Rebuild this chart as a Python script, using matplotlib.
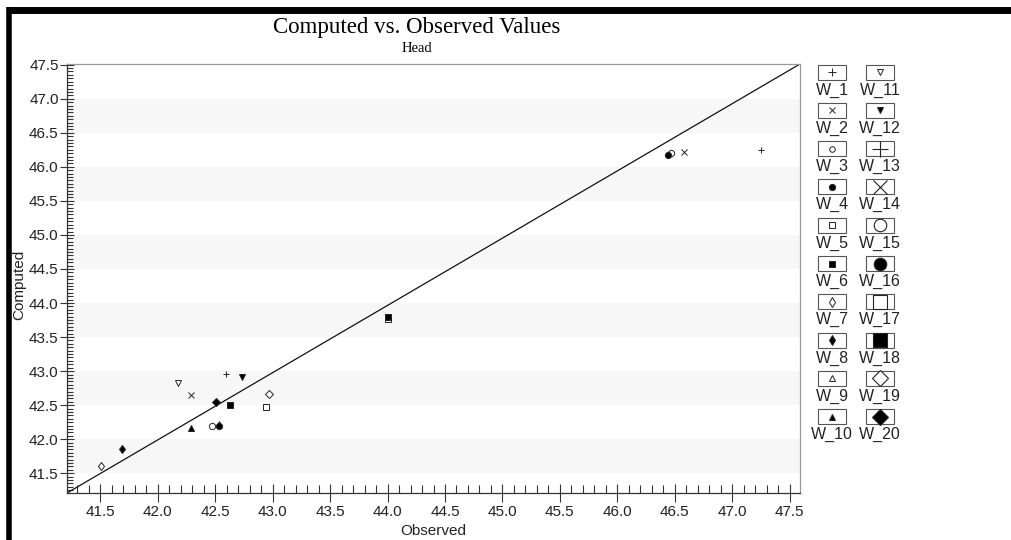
import matplotlib
matplotlib.use("Agg")
import matplotlib.pyplot as plt
from matplotlib.ticker import MultipleLocator, FormatStrFormatter
from matplotlib.patches import Rectangle
import numpy as np

# Data: observed vs computed head per well
wells = ["W_1", "W_2", "W_3", "W_4", "W_5", "W_6", "W_7", "W_8", "W_9", "W_10",
         "W_11", "W_12", "W_13", "W_14", "W_15", "W_16", "W_17", "W_18", "W_19", "W_20"]
observed = [42.59, 42.29, 46.47, 42.53, 42.945, 42.63, 41.506, 41.69, 42.53, 42.29,
            42.175, 42.73, 47.25, 46.58, 42.47, 46.44, 44.0, 44.0, 42.97, 42.51]
computed = [42.96, 42.65, 46.20, 42.19, 42.48, 42.50, 41.61, 41.85, 42.22, 42.16,
            42.83, 42.91, 46.24, 46.22, 42.20, 46.18, 43.77, 43.80, 42.66, 42.54]

# marker, filled, legend size
styles = [("+", False, 6), ("x", False, 5), ("o", False, 4), ("o", True, 4.5),
          ("s", False, 4.5), ("s", True, 4.5), ("d", False, 5), ("d", True, 5),
          ("^", False, 5), ("^", True, 5), ("v", False, 5), ("v", True, 5),
          ("+", False, 11), ("x", False, 10), ("o", False, 9), ("o", True, 9),
          ("s", False, 10), ("s", True, 10), ("D", False, 8), ("D", True, 8)]

W, H = 1012, 540
fig = plt.figure(figsize=(W / 100, H / 100), dpi=100)
fig.patch.set_facecolor("white")

ax = fig.add_axes([67 / W, 1 - 493 / H, (800 - 67) / W, (493 - 64) / H])
ax.set_xlim(41.21, 47.59)
ax.set_ylim(41.21, 47.51)

for y0 in np.arange(41.5, 47.0, 1.0):
    ax.axhspan(y0, y0 + 0.5, color="#f7f7f7", lw=0, zorder=0)

ax.plot([0, 1], [0, 1], transform=ax.transAxes, color="#111", lw=0.9, zorder=2)

for i, w in enumerate(wells):
    m, filled, _ = styles[i]
    ms = 5 if m in "+x" else 4.5
    ax.plot(observed[i], computed[i], linestyle="none", marker=m, markersize=ms,
            markerfacecolor="black" if filled else "white",
            markeredgecolor="#222", markeredgewidth=0.7, zorder=4 if filled else 3)

ax.xaxis.set_major_locator(MultipleLocator(0.5))
ax.xaxis.set_minor_locator(MultipleLocator(0.1))
ax.yaxis.set_major_locator(MultipleLocator(0.5))
ax.yaxis.set_minor_locator(MultipleLocator(0.05))
ax.xaxis.set_major_formatter(FormatStrFormatter("%.1f"))
ax.yaxis.set_major_formatter(FormatStrFormatter("%.1f"))
ax.tick_params(axis="x", which="major", direction="inout", length=13, width=0.8,
               color="#333", labelsize=11, pad=2, labelcolor="#222")
ax.tick_params(axis="y", which="major", direction="inout", length=10, width=0.8,
               color="#333", labelsize=11, pad=1, labelcolor="#222")
ax.tick_params(axis="x", which="minor", direction="in", length=6, width=0.8, color="#333")
ax.tick_params(axis="y", which="minor", direction="in", length=4.5, width=0.8, color="#333")
for lab in ax.get_xticklabels() + ax.get_yticklabels():
    lab.set_family("Liberation Sans")

ax.spines["left"].set_color("#333")
ax.spines["bottom"].set_color("#333")
ax.spines["top"].set_color("#999")
ax.spines["right"].set_color("#999")
for s in ax.spines.values():
    s.set_linewidth(0.9)

fig.text(417 / W, 1 - 28 / H, "Computed vs. Observed Values", ha="center", va="center",
         fontsize=16.5, family="Liberation Serif")
fig.text(417 / W, 1 - 49 / H, "Head", ha="center", va="center",
         fontsize=10.5, family="Liberation Serif")
fig.text(433 / W, 1 - 531 / H, "Observed", ha="center", va="center",
         fontsize=11, family="Liberation Sans", color="#222")
fig.text(19 / W, 1 - 285 / H, "Computed", ha="center", va="center", rotation=90,
         fontsize=11, family="Liberation Sans", color="#222")

# overlay in pixel coordinates for legend and frame
ov = fig.add_axes([0, 0, 1, 1], facecolor="none")
ov.set_xlim(0, W)
ov.set_ylim(H, 0)
ov.axis("off")

for i, w in enumerate(wells):
    m, filled, size = styles[i]
    col, row = divmod(i, 10)
    cx = 832 + col * 48
    cy = 72 + row * 38.3
    ov.add_patch(Rectangle((cx - 14, cy - 7.5), 28, 15, fill=False, ec="#555", lw=0.8))
    ov.plot(cx, cy, marker=m, markersize=size, linestyle="none",
            markerfacecolor="black" if filled else "white",
            markeredgecolor="#222", markeredgewidth=0.7 if size < 7 else 0.8)
    ov.text(cx, cy + 18, w, ha="center", va="center", fontsize=11.5,
            family="Liberation Sans", color="#222")

ov.plot([7, W], [10, 10], color="black", lw=5, solid_capstyle="butt")
ov.plot([9.5, 9.5], [7, H], color="black", lw=4, solid_capstyle="butt")

fig.savefig("out.png", dpi=100)
